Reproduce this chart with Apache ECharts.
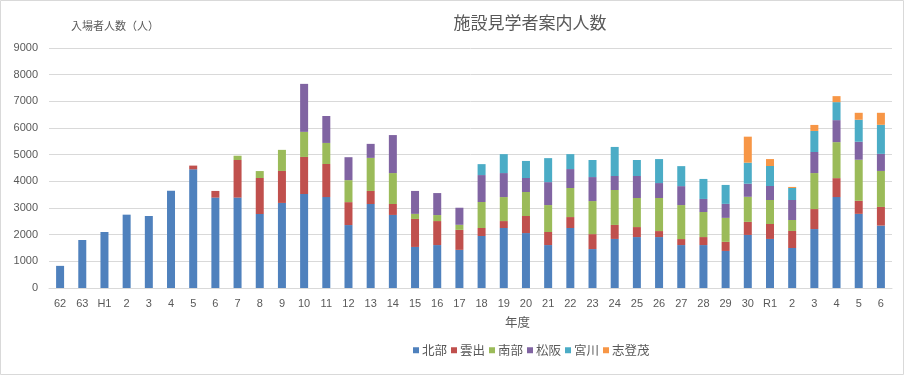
<!DOCTYPE html>
<html>
<head>
<meta charset="utf-8">
<script src="https://cdn.jsdelivr.net/npm/echarts@6/dist/echarts.min.js"></script>
<style>html,body{margin:0;padding:0;background:#fff;}#c{width:905px;height:376px;}</style>
</head>
<body>
<div id="c"></div>
<script>
var categories = ['62','63','H1','2','3','4','5','6','7','8','9','10','11','12','13','14','15','16','17','18','19','20','21','22','23','24','25','26','27','28','29','30','R1','2','3','4','5','6'];
var hokubu  = [830,1800,2100,2750,2700,3650,4450,3390,3390,2775,3190,3525,3410,2360,3150,2740,1540,1610,1430,1950,2250,2060,1610,2250,1460,1840,1910,1910,1610,1610,1390,1990,1840,1500,2210,3410,2780,2340];
var kumozu  = [0,0,0,0,0,0,140,250,1410,1350,1200,1390,1240,860,490,410,1050,900,750,300,260,640,490,410,560,525,375,225,225,300,340,490,560,640,750,710,490,700];
var nanbu   = [0,0,0,0,0,0,0,0,160,260,790,940,790,825,1240,1160,190,225,190,975,900,900,1010,1090,1240,1310,1090,1240,1275,940,900,940,900,410,1350,1350,1540,1350];
var matsusaka = [0,0,0,0,0,0,0,0,0,0,0,1800,1010,860,525,1425,860,825,640,1010,900,525,860,710,900,525,825,560,710,490,525,490,525,750,790,825,675,640];
var miyagawa = [0,0,0,0,0,0,0,0,0,0,0,0,0,0,0,0,0,0,0,410,710,640,900,560,640,1090,600,900,750,750,710,790,750,450,790,675,825,1090];
var shitomo = [0,0,0,0,0,0,0,0,0,0,0,0,0,0,0,0,0,0,0,0,0,0,0,0,0,0,0,0,0,0,0,975,260,40,225,225,260,450];
var seriesNames = ['北部','雲出','南部','松阪','宮川','志登茂'];
var yTicks = [0,1000,2000,3000,4000,5000,6000,7000,8000,9000];

var colors = ['#4F81BD','#C0504D','#9BBB59','#8064A2','#4BACC6','#F79646'];
var dataSets = [hokubu,kumozu,nanbu,matsusaka,miyagawa,shitomo];
var font = 'Noto Sans CJK JP, sans-serif';
var chart = echarts.init(document.getElementById('c'));
chart.setOption({
  animation:false,
  color: colors,
  textStyle:{fontFamily:font},
  title:{text:'施設見学者案内人数', left:525, top:9, textAlign:'center',
    textStyle:{fontSize:17, fontWeight:'normal', color:'#595959', fontFamily:font}},
  legend:{data:seriesNames, left:408, top:339, itemWidth:6, itemHeight:6, itemGap:4,
    icon:'rect', textStyle:{fontSize:12.5, color:'#595959', fontFamily:font, padding:[0,0,0,-2]}},
  grid:{left:49, right:13, top:48, bottom:88, containLabel:false},
  graphic:[
    {type:'rect', shape:{x:0.5,y:0.5,width:903,height:374}, style:{fill:'none', stroke:'#d9d9d9', lineWidth:1}, silent:true, z:-1},
    {type:'text', left:71, top:20, style:{text:'入場者人数（人）', fontSize:11, fill:'#595959', fontFamily:font}},
    {type:'text', left:505, top:316, style:{text:'年度', fontSize:12.5, fill:'#595959', fontFamily:font}}
  ],
  xAxis:{type:'category', data:categories,
    axisLine:{lineStyle:{color:'#d9d9d9'}}, axisTick:{show:false},
    axisLabel:{interval:0, color:'#595959', fontSize:11, margin:10, fontFamily:'Liberation Sans, sans-serif'}},
  yAxis:{type:'value', min:yTicks[0], max:yTicks[yTicks.length-1], interval:1000,
    axisLine:{show:false}, axisTick:{show:false},
    splitLine:{lineStyle:{color:'#d9d9d9'}},
    axisLabel:{color:'#595959', fontSize:11, margin:11, fontFamily:'Liberation Sans, sans-serif',
      formatter:function(v){return String(v);}}},
  series: seriesNames.map(function(n,i){
    return {name:n, type:'bar', stack:'total', barWidth:8, data:dataSets[i]};
  })
});
</script>
</body>
</html>
